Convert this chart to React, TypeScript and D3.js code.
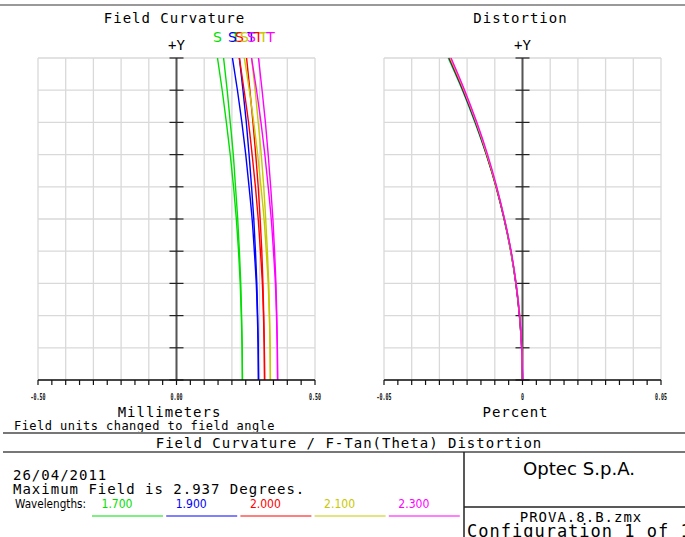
import React from "react";
import * as d3 from "d3";

// wavelengths (micron) and their pen colours
const WAVELENGTHS = ["1.700", "1.900", "2.000", "2.100", "2.300"];
const COLORS = ["#00e000", "#0000ff", "#ff0000", "#c8c800", "#ff00ff"];

// field angle in degrees, bottom to top
const FIELD_DEG = [0, 0.294, 0.587, 0.881, 1.175, 1.469, 1.762, 2.056, 2.35, 2.643, 2.937];

// field curvature, millimeters (S = sagittal, T = tangential)
const SAG_1700 = [0.238, 0.237, 0.234, 0.23, 0.224, 0.216, 0.206, 0.194, 0.18, 0.165, 0.148];
const TAN_1700 = [0.238, 0.237, 0.235, 0.232, 0.227, 0.221, 0.213, 0.205, 0.194, 0.183, 0.17];
const SAG_1900 = [0.296, 0.295, 0.292, 0.288, 0.281, 0.273, 0.262, 0.25, 0.236, 0.22, 0.202];
const TAN_1900 = [0.296, 0.295, 0.293, 0.29, 0.285, 0.279, 0.271, 0.262, 0.252, 0.24, 0.227];
const SAG_2000 = [0.318, 0.317, 0.314, 0.31, 0.303, 0.295, 0.285, 0.273, 0.26, 0.244, 0.227];
const TAN_2000 = [0.318, 0.317, 0.315, 0.312, 0.308, 0.302, 0.295, 0.286, 0.276, 0.265, 0.253];
const SAG_2100 = [0.339, 0.338, 0.335, 0.331, 0.324, 0.316, 0.305, 0.293, 0.279, 0.263, 0.245];
const TAN_2100 = [0.339, 0.338, 0.336, 0.333, 0.328, 0.322, 0.315, 0.306, 0.295, 0.284, 0.271];
const SAG_2300 = [0.365, 0.364, 0.361, 0.357, 0.35, 0.342, 0.331, 0.319, 0.305, 0.289, 0.271];
const TAN_2300 = [0.365, 0.364, 0.362, 0.359, 0.354, 0.348, 0.34, 0.331, 0.321, 0.309, 0.296];

// f-tan(theta) distortion, percent
const DIST_1700 = [0, -0.0003, -0.0011, -0.0024, -0.0043, -0.0067, -0.0096, -0.0131, -0.0172, -0.0217, -0.0268];
const DIST_1900 = [0, -0.0003, -0.0011, -0.0024, -0.0042, -0.0066, -0.0095, -0.013, -0.017, -0.0215, -0.0265];
const DIST_2000 = [0, -0.0003, -0.0011, -0.0024, -0.0042, -0.0066, -0.0095, -0.0129, -0.0168, -0.0213, -0.0263];
const DIST_2100 = [0, -0.0003, -0.001, -0.0023, -0.0042, -0.0065, -0.0094, -0.0128, -0.0167, -0.0211, -0.0261];
const DIST_2300 = [0, -0.0003, -0.001, -0.0023, -0.0041, -0.0065, -0.0093, -0.0126, -0.0165, -0.0209, -0.0258];

const FC_TICKS = ["-0.50", "0.00", "0.50"];
const DIST_TICKS = ["-0.05", "0", "0.05"];

const SAG = [SAG_1700, SAG_1900, SAG_2000, SAG_2100, SAG_2300];
const TAN = [TAN_1700, TAN_1900, TAN_2000, TAN_2100, TAN_2300];
const DIST = [DIST_1700, DIST_1900, DIST_2000, DIST_2100, DIST_2300];

const W = 685;
const H = 537;
const MONO = "'DejaVu Sans Mono', monospace";
const SANS = "'DejaVu Sans', sans-serif";
const GRID = "#d9d9d9";

const yScale = d3.scaleLinear().domain([0, 2.937]).range([380, 58]);

function Panel({ x0, x1, domain, ticks, title, unit, children }) {
  const x = d3.scaleLinear().domain(domain).range([x0, x1]);
  const cx = x(0);
  const gridX = d3.range(11).map((i) => domain[0] + ((domain[1] - domain[0]) * i) / 10);
  const minorX = d3.range(21).map((i) => domain[0] + ((domain[1] - domain[0]) * i) / 20);
  const gridY = d3.range(11).map((i) => (2.937 * i) / 10);
  const labelVals = [domain[0], 0, domain[1]];
  return (
    <g>
      <text x={(x0 + x1) / 2 - 2} y={23} fontFamily={MONO} fontSize={14} letterSpacing={1} textAnchor="middle">
        {title}
      </text>
      <text x={cx} y={50} fontFamily={MONO} fontSize={14} textAnchor="middle">
        +Y
      </text>
      {gridX.map((v, i) => (
        <line key={"gx" + i} x1={x(v)} x2={x(v)} y1={58} y2={380} stroke={GRID} strokeWidth={1.3} />
      ))}
      {gridY.map((v, i) => (
        <line key={"gy" + i} x1={x0} x2={x1} y1={yScale(v)} y2={yScale(v)} stroke={GRID} strokeWidth={1.3} />
      ))}
      <line x1={cx} x2={cx} y1={58} y2={380} stroke="#555" strokeWidth={2} />
      {gridY.map((v, i) => (
        <line key={"yt" + i} x1={cx - 7} x2={cx + 7} y1={yScale(v)} y2={yScale(v)} stroke="#222" strokeWidth={1.2} />
      ))}
      {children(x)}
      <line x1={x0} x2={x1} y1={380} y2={380} stroke="#111" strokeWidth={1.5} />
      {minorX.map((v, i) => (
        <line key={"xt" + i} x1={x(v)} x2={x(v)} y1={380} y2={385} stroke="#111" strokeWidth={1.2} />
      ))}
      {labelVals.map((v, i) => (
        <text
          key={"xl" + i}
          x={x(v)}
          y={400}
          fontFamily={MONO}
          fontSize={9}
          fontWeight="bold"
          textAnchor="middle"
          textLength={ticks[i].length * 3}
          lengthAdjust="spacingAndGlyphs"
          fill="#111"
        >
          {ticks[i]}
        </text>
      ))}
      <text x={(x0 + x1) / 2 - 7} y={417} fontFamily={MONO} fontSize={14} letterSpacing={1} textAnchor="middle">
        {unit}
      </text>
    </g>
  );
}

export default function App() {
  const line = (x, vals) =>
    d3
      .line<number>()
      .x((v) => x(v))
      .y((_, i) => yScale(FIELD_DEG[i]))
      .curve(d3.curveMonotoneY)(vals);

  return (
    <div style={{ position: "fixed", left: 0, top: 0 }}>
      <svg width={W} height={H} style={{ display: "block", background: "#fff" }}>
        <line x1={0} x2={W} y1={5} y2={5} stroke="#777" strokeWidth={1.5} />

        <Panel x0={38} x1={315} domain={[-0.5, 0.5]} ticks={FC_TICKS} title="Field Curvature" unit="Millimeters">
          {(x) => (
            <g>
              {WAVELENGTHS.map((w, i) => (
                <g key={w} fill="none" stroke={COLORS[i]} strokeWidth={1.4}>
                  <path d={line(x, SAG[i])} />
                  <path d={line(x, TAN[i])} />
                </g>
              ))}
              {WAVELENGTHS.map((w, i) => (
                <text key={"t" + w} x={x(TAN[i][10]) + 12} y={42} fontFamily={SANS} fontSize={14} fill={COLORS[i]} textAnchor="middle">
                  T
                </text>
              ))}
              {WAVELENGTHS.map((w, i) => (
                <text key={"s" + w} x={x(SAG[i][10])} y={42} fontFamily={SANS} fontSize={14} fill={COLORS[i]} textAnchor="middle">
                  S
                </text>
              ))}
            </g>
          )}
        </Panel>

        <Panel x0={384} x1={661} domain={[-0.05, 0.05]} ticks={DIST_TICKS} title="Distortion" unit="Percent">
          {(x) => (
            <g>
              {WAVELENGTHS.map((w, i) => (
                <path key={w} d={line(x, DIST[i])} fill="none" stroke={COLORS[i]} strokeWidth={1.4} />
              ))}
            </g>
          )}
        </Panel>

        <text x={14} y={430} fontFamily={MONO} fontSize={12} letterSpacing={0.45}>
          Field units changed to field angle
        </text>
        <line x1={3} x2={W} y1={433} y2={433} stroke="#777" strokeWidth={2} />
        <text x={349} y={448} fontFamily={MONO} fontSize={14} letterSpacing={1} textAnchor="middle">
          Field Curvature / F-Tan(Theta) Distortion
        </text>
        <line x1={3} x2={W} y1={452} y2={452} stroke="#777" strokeWidth={2} />
        <line x1={464} x2={464} y1={452} y2={H} stroke="#222" strokeWidth={1.5} />
        <line x1={464} x2={W} y1={507} y2={507} stroke="#222" strokeWidth={1.5} />

        <text x={13} y={480} fontFamily={MONO} fontSize={14} letterSpacing={1}>
          26/04/2011
        </text>
        <text x={13} y={494} fontFamily={MONO} fontSize={14} letterSpacing={1}>
          Maximum Field is 2.937 Degrees.
        </text>
        <text x={15} y={508} fontFamily={SANS} fontSize={12} textLength={71} lengthAdjust="spacingAndGlyphs">
          Wavelengths:
        </text>
        {WAVELENGTHS.map((w, i) => (
          <g key={"lg" + w}>
            <text
              x={117 + i * 74.2}
              y={508}
              fontFamily={SANS}
              fontSize={12}
              fill={COLORS[i]}
              textAnchor="middle"
              textLength={31}
              lengthAdjust="spacingAndGlyphs"
            >
              {w}
            </text>
            <line x1={92 + i * 74.2} x2={163 + i * 74.2} y1={516} y2={516} stroke={COLORS[i]} strokeWidth={1.2} />
          </g>
        ))}

        <text x={579} y={475} fontFamily={SANS} fontSize={18} textAnchor="middle" textLength={112} lengthAdjust="spacingAndGlyphs">
          Optec S.p.A.
        </text>
        <text x={581} y={522} fontFamily={MONO} fontSize={14} letterSpacing={1} textAnchor="middle">
          PROVA.8.B.zmx
        </text>
        <text x={467} y={537} fontFamily={MONO} fontSize={17} letterSpacing={1}>
          Configuration 1 of 1
        </text>
      </svg>
    </div>
  );
}
